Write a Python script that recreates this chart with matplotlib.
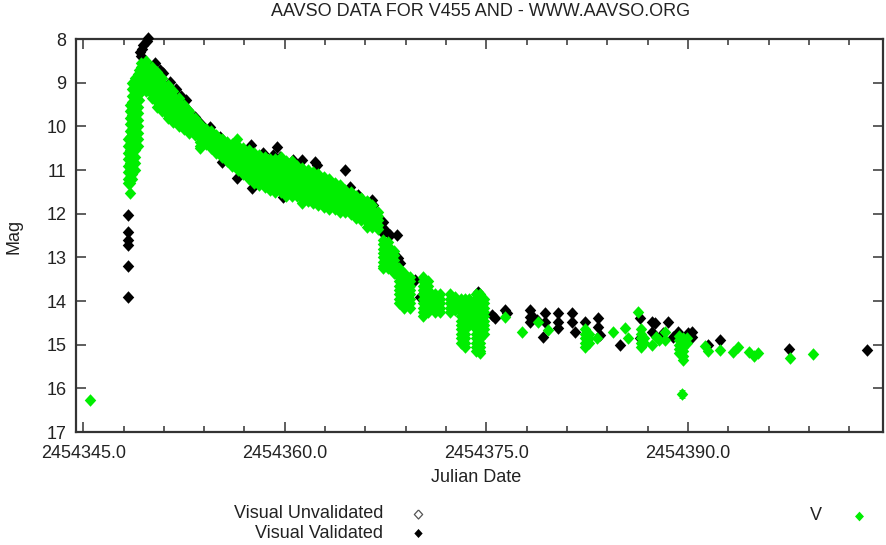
import matplotlib
matplotlib.use("Agg")
import matplotlib.pyplot as plt
from matplotlib.ticker import MultipleLocator

plt.rcParams['font.family'] = ['Liberation Sans', 'DejaVu Sans']

# V band observations (green); each JD carries the mags seen stacked at that date
v_jd = [2454345.50, 2454348.47, 2454356.44,
        2454348.35, 2454348.50, 2454348.65, 2454348.85, 2454349.05, 2454349.15,
        2454349.30, 2454349.70, 2454350.10, 2454350.50, 2454350.90, 2454351.30,
        2454351.70, 2454352.10, 2454352.50, 2454352.90, 2454353.30, 2454353.70,
        2454354.10, 2454354.50, 2454354.90, 2454355.30, 2454355.70, 2454356.10,
        2454356.50, 2454356.90, 2454357.30, 2454357.70, 2454358.10, 2454358.50,
        2454358.90, 2454359.30, 2454359.70, 2454360.10, 2454360.50, 2454360.90,
        2454361.30, 2454361.70, 2454362.10, 2454362.50, 2454362.90, 2454363.30,
        2454363.70, 2454364.10, 2454364.50, 2454364.90, 2454365.30, 2454365.70,
        2454366.10, 2454366.50, 2454366.90,
        2454367.30, 2454367.70, 2454368.10, 2454368.50, 2454368.90, 2454369.30,
        2454370.30, 2454370.65, 2454371.20, 2454371.55, 2454372.30, 2454372.65,
        2454373.10, 2454373.40, 2454373.70, 2454374.20, 2454374.50, 2454374.80,
        2454376.37, 2454377.64, 2454378.83, 2454379.58, 2454382.35, 2454382.60,
        2454383.22, 2454384.41, 2454385.31, 2454385.53, 2454386.27, 2454386.50,
        2454386.75, 2454387.31, 2454387.60, 2454387.85, 2454388.28, 2454389.30,
        2454389.60, 2454389.90, 2454391.26, 2454391.45, 2454392.38, 2454393.34,
        2454393.72, 2454394.50, 2454394.90, 2454395.20, 2454397.58, 2454399.29]

v_mag = [[16.27], [11.53], [10.3],
         [10.3, 10.45, 10.6, 10.75, 10.9, 11.05, 11.2, 11.3],
         [9.5, 9.65, 9.8, 9.95, 10.1, 10.25, 10.4, 10.55, 10.7, 10.85, 11.0, 11.15, 11.3],
         [9.0, 9.15, 9.3, 9.45, 9.6, 9.75, 9.9, 10.05, 10.2, 10.35, 10.5, 10.65, 10.8, 10.95, 11.1, 11.2],
         [8.9, 9.05, 9.2, 9.35, 9.5, 9.65, 9.8, 9.95, 10.1, 10.25, 10.4, 10.55, 10.7, 10.85, 11.0],
         [8.8, 8.95, 9.1, 9.25, 9.4, 9.55, 9.7, 9.85, 10.0, 10.15, 10.3, 10.45],
         [8.7, 8.8, 8.9, 9.0, 9.1, 9.25, 9.4],
         [8.55, 8.65, 8.75, 8.85, 8.95],
         [8.5, 8.6, 8.7, 8.8, 8.9, 9.0, 9.1, 9.2],
         [8.65, 8.75, 8.85, 8.95, 9.05, 9.15, 9.25, 9.35],
         [8.75, 8.85, 8.95, 9.05, 9.15, 9.25, 9.35, 9.45, 9.55],
         [8.9, 9.0, 9.1, 9.2, 9.3, 9.4, 9.5, 9.6, 9.65],
         [9.05, 9.15, 9.25, 9.35, 9.45, 9.55, 9.65, 9.75, 9.8],
         [9.2, 9.3, 9.4, 9.5, 9.6, 9.7, 9.8, 9.9],
         [9.35, 9.45, 9.55, 9.65, 9.75, 9.85, 9.95, 10.0],
         [9.5, 9.6, 9.7, 9.8, 9.9, 10.0, 10.05],
         [9.65, 9.75, 9.85, 9.95, 10.05, 10.15],
         [9.8, 9.9, 10.0, 10.1, 10.2],
         [9.95, 10.05, 10.15, 10.25, 10.35, 10.45, 10.5],
         [10.05, 10.15, 10.25, 10.35, 10.4],
         [10.1, 10.2, 10.3, 10.4, 10.5],
         [10.2, 10.3, 10.4, 10.5, 10.6],
         [10.3, 10.4, 10.5, 10.6, 10.7],
         [10.35, 10.45, 10.55, 10.65, 10.75, 10.8],
         [10.4, 10.5, 10.6, 10.7, 10.8, 10.9],
         [10.45, 10.55, 10.65, 10.75, 10.85, 10.95, 11.0],
         [10.5, 10.6, 10.7, 10.8, 10.9, 11.0, 11.1],
         [10.55, 10.65, 10.75, 10.85, 10.95, 11.05, 11.15, 11.2],
         [10.6, 10.7, 10.8, 10.9, 11.0, 11.1, 11.2, 11.3],
         [10.65, 10.75, 10.85, 10.95, 11.05, 11.15, 11.25, 11.35],
         [10.7, 10.8, 10.9, 11.0, 11.1, 11.2, 11.3, 11.4],
         [10.75, 10.85, 10.95, 11.05, 11.15, 11.25, 11.35, 11.45],
         [10.75, 10.85, 10.95, 11.05, 11.15, 11.25, 11.35, 11.45, 11.5],
         [10.7, 10.8, 10.9, 11.0, 11.1, 11.2, 11.3, 11.4, 11.5],
         [10.8, 10.9, 11.0, 11.1, 11.2, 11.3, 11.4, 11.5, 11.6],
         [10.8, 10.9, 11.0, 11.1, 11.2, 11.3, 11.4, 11.5, 11.6],
         [10.9, 11.0, 11.1, 11.2, 11.3, 11.4, 11.5, 11.6],
         [10.95, 11.05, 11.15, 11.25, 11.35, 11.45, 11.55, 11.65, 11.75],
         [11.0, 11.1, 11.2, 11.3, 11.4, 11.5, 11.6, 11.7],
         [11.05, 11.15, 11.25, 11.35, 11.45, 11.55, 11.65, 11.75],
         [11.1, 11.2, 11.3, 11.4, 11.5, 11.6, 11.7, 11.8],
         [11.15, 11.25, 11.35, 11.45, 11.55, 11.65, 11.75, 11.85],
         [11.2, 11.3, 11.4, 11.5, 11.6, 11.7, 11.8, 11.9],
         [11.3, 11.4, 11.5, 11.6, 11.7, 11.8, 11.9],
         [11.35, 11.45, 11.55, 11.65, 11.75, 11.85, 11.95],
         [11.45, 11.55, 11.65, 11.75, 11.85, 11.95],
         [11.5, 11.6, 11.7, 11.8, 11.9, 12.0],
         [11.6, 11.7, 11.8, 11.9, 12.0, 12.1],
         [11.65, 11.75, 11.85, 11.95, 12.05, 12.15],
         [11.7, 11.8, 11.9, 12.0, 12.1, 12.2, 12.3],
         [11.8, 11.9, 12.0, 12.1, 12.2, 12.3],
         [11.95, 12.05, 12.15, 12.25, 12.35],
         [12.6, 12.7, 12.8, 12.9, 13.0, 13.1, 13.2, 13.25],
         [12.65, 12.75, 12.85, 12.95, 13.05, 13.15, 13.25],
         [12.85, 12.95, 13.05, 13.15, 13.25, 13.35],
         [13.25, 13.35, 13.45, 13.55, 13.65, 13.75, 13.85, 13.95, 14.05],
         [13.35, 13.45, 13.55, 13.65, 13.75, 13.85, 13.95, 14.05, 14.15],
         [13.45, 13.55, 13.65, 13.75, 13.85, 13.95, 14.05, 14.15],
         [13.45, 13.55, 13.65, 13.75, 13.85, 13.95, 14.05, 14.15, 14.25, 14.35],
         [13.55, 13.65, 13.75, 13.85, 13.95, 14.05, 14.15, 14.25],
         [13.85, 13.95, 14.05, 14.15, 14.25],
         [13.85, 13.95, 14.05, 14.15, 14.25],
         [13.85, 13.95, 14.05, 14.15, 14.25],
         [13.9, 14.0, 14.1, 14.2],
         [13.95, 14.05, 14.15, 14.25, 14.35, 14.45, 14.55, 14.65, 14.75, 14.85, 14.95],
         [13.95, 14.05, 14.15, 14.25, 14.35, 14.45, 14.55, 14.65, 14.75, 14.85, 14.95, 15.05],
         [13.95, 14.05, 14.15, 14.25, 14.35, 14.45, 14.55],
         [13.85, 13.95, 14.05, 14.15, 14.25, 14.35, 14.45, 14.55, 14.65, 14.75, 14.85, 14.95, 15.05, 15.15],
         [13.85, 13.95, 14.05, 14.15, 14.25, 14.35, 14.45, 14.55, 14.65, 14.75, 14.85, 14.95, 15.05, 15.15, 15.2],
         [13.95, 14.05, 14.15, 14.25, 14.35, 14.45, 14.55, 14.65, 14.75],
         [14.37], [14.71], [14.48], [14.66],
         [14.65, 14.75, 14.85, 14.95, 15.05], [14.75, 14.85, 14.95],
         [14.85], [14.71], [14.62], [14.85], [14.25],
         [14.65, 14.75, 14.85, 14.95, 15.05], [14.85, 14.95],
         [15.01], [14.82], [14.9], [14.71, 14.89],
         [14.8, 14.9, 15.0, 15.1, 15.2],
         [14.85, 14.95, 15.05, 15.15, 15.25, 15.35], [14.85, 14.95],
         [15.03], [15.15], [15.12], [15.17], [15.05], [15.17], [15.25], [15.2],
         [15.30], [15.21]]

# V point with a visible error bar
v_err_jd = [2454389.55]
v_err_mag = [16.13]
v_err = [0.1]

# Visual Validated (black)
vis_jd = [2454348.33, 2454348.33, 2454348.33, 2454348.36, 2454348.33, 2454348.33,
          2454349.80, 2454349.75, 2454349.45, 2454349.40, 2454349.25, 2454349.30,
          2454350.33, 2454350.70, 2454350.93, 2454351.45, 2454351.90, 2454352.30,
          2454352.64, 2454352.80, 2454353.31, 2454353.69, 2454354.43, 2454354.65,
          2454355.18, 2454355.33, 2454356.44, 2454357.48, 2454357.40, 2454357.55,
          2454358.37, 2454359.11, 2454359.41, 2454359.64, 2454359.86, 2454360.60,
          2454361.27, 2454362.24, 2454360.97, 2454361.65, 2454362.24, 2454362.39,
          2454364.47, 2454363.36, 2454364.85, 2454364.47, 2454365.45, 2454366.48,
          2454366.55, 2454367.30, 2454367.45, 2454367.82, 2454368.34, 2454367.30,
          2454368.42, 2454368.56, 2454369.68, 2454370.05, 2454361.35,
          2454374.37, 2454375.41, 2454375.63, 2454376.37, 2454376.52, 2454378.24,
          2454378.24, 2454378.24, 2454378.46, 2454378.76, 2454379.20, 2454379.35,
          2454379.35, 2454380.32, 2454380.32, 2454380.32, 2454381.36, 2454381.36,
          2454381.58, 2454382.33, 2454383.30, 2454383.30, 2454383.45, 2454384.93,
          2454386.42, 2454386.42, 2454387.31, 2454387.54, 2454387.31, 2454388.50,
          2454388.13, 2454388.88, 2454389.25, 2454389.99, 2454390.29, 2454390.29,
          2454391.49, 2454392.38, 2454397.50, 2454403.31]
vis_mag = [12.03, 12.42, 12.60, 12.72, 13.20, 13.91,
           7.98, 8.05, 8.14, 8.22, 8.30, 8.38,
           8.55, 8.70, 8.78, 8.98, 9.15, 9.30,
           9.40, 9.63, 9.79, 9.92, 10.02, 10.24,
           10.24, 10.82, 11.18, 10.43, 10.59, 11.41,
           10.61, 10.66, 10.47, 10.70, 11.62, 10.77,
           10.77, 10.82, 11.05, 11.62, 11.18, 10.89,
           11.00, 11.30, 11.39, 11.53, 11.57, 11.69,
           11.80, 12.19, 12.37, 12.49, 12.49, 12.44,
           13.01, 13.13, 13.52, 13.91, 11.64,
           13.79, 14.32, 14.39, 14.21, 14.27, 14.21,
           14.37, 14.48, 14.37, 14.43, 14.82, 14.27,
           14.48, 14.27, 14.48, 14.62, 14.27, 14.48,
           14.71, 14.48, 14.39, 14.59, 14.78, 15.01,
           14.39, 14.85, 14.48, 14.50, 14.71, 14.48,
           14.73, 14.82, 14.71, 14.73, 14.71, 14.82,
           15.01, 14.89, 15.10, 15.12]

major_ticks = [2454345.0, 2454360.0, 2454375.0, 2454390.0]
mag_ticks = [8, 9, 10, 11, 12, 13, 14, 15, 16, 17]

green = '#00ee00'
axis_col = '#333333'
text_col = '#222222'
diamond = [(0, 1), (0.92, 0), (0, -1), (-0.92, 0), (0, 1)]
msize = 9.0

assert len(v_jd) == len(v_mag)
assert len(vis_jd) == len(vis_mag)
gx = [jd for jd, ms in zip(v_jd, v_mag) for m in ms]
gy = [m for jd, ms in zip(v_jd, v_mag) for m in ms]

fig = plt.figure(figsize=(8.86, 5.45), dpi=100)
ax = fig.add_axes([0.0863, 0.2073, 0.9103, 0.7211])

ax.plot(vis_jd, vis_mag, ls='none', marker=diamond, ms=msize, mew=0,
        color='black', clip_on=False, zorder=3)
ax.errorbar(v_err_jd, v_err_mag, yerr=v_err, fmt='none', ecolor=green,
            elinewidth=0.6, capsize=2.5, capthick=0.6, zorder=4)
ax.plot(v_err_jd, v_err_mag, ls='none', marker=diamond, ms=msize, mew=0,
        color=green, zorder=4)
ax.plot(gx, gy, ls='none', marker=diamond, ms=msize, mew=0, color=green, zorder=4)

ax.set_xlim(2454344.5, 2454404.5)
ax.set_ylim(17, 8)
ax.set_xticks(major_ticks, ['%.1f' % t for t in major_ticks])
ax.xaxis.set_minor_locator(MultipleLocator(3))
ax.set_yticks(mag_ticks, [str(t) for t in mag_ticks])

for s in ax.spines.values():
    s.set_color(axis_col)
    s.set_linewidth(1.6)
    s.set_zorder(2)
ax.tick_params(which='both', direction='in', top=True, right=True,
               color=axis_col, width=1.1, labelsize=13, labelcolor=text_col)
ax.tick_params(which='major', length=7)
ax.tick_params(which='minor', length=4)
ax.tick_params(axis='x', pad=9)
ax.tick_params(axis='y', pad=7)

fig.text(0.542, 0.978, 'AAVSO DATA FOR V455 AND - WWW.AAVSO.ORG',
         ha='center', va='center', fontsize=13, color=text_col)
fig.text(0.016, 0.567, 'Mag', rotation=90, ha='center', va='center',
         fontsize=13, color=text_col)
fig.text(0.537, 0.123, 'Julian Date', ha='center', va='center',
         fontsize=13, color=text_col)

# legend laid out below the plot like the gnuplot key
fig.text(383 / 886, 1 - 514 / 545, 'Visual Unvalidated', ha='right', va='center',
         fontsize=13, color=text_col)
fig.text(383 / 886, 1 - 533 / 545, 'Visual Validated', ha='right', va='center',
         fontsize=13, color=text_col)
fig.text(816 / 886, 1 - 515 / 545, 'V', ha='center', va='center',
         fontsize=13, color=text_col)
fig.add_artist(plt.Line2D([418 / 886], [1 - 514 / 545], ls='none', marker=diamond,
                          ms=6.5, mfc='white', mec='#555555', mew=0.9,
                          transform=fig.transFigure))
fig.add_artist(plt.Line2D([418 / 886], [1 - 533 / 545], ls='none', marker=diamond,
                          ms=6.5, mew=0, color='black', transform=fig.transFigure))
fig.add_artist(plt.Line2D([859 / 886], [1 - 516 / 545], ls='none', marker=diamond,
                          ms=7.0, mew=0, color=green, transform=fig.transFigure))

fig.savefig('out.png', dpi=100)
